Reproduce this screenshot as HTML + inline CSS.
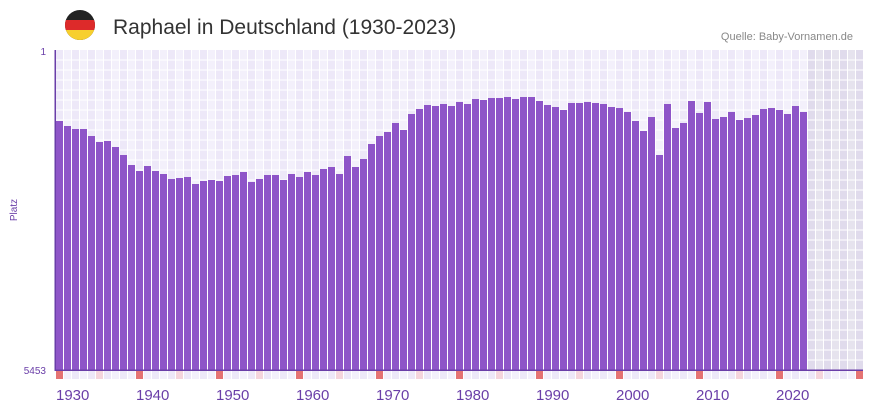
<!DOCTYPE html>
<html><head><meta charset="utf-8"><style>
body{margin:0;background:#fff;width:873px;height:412px;overflow:hidden;font-family:"Liberation Sans",sans-serif}
</style></head><body>
<svg id="s" width="873" height="412" xmlns="http://www.w3.org/2000/svg">
<circle cx="80" cy="25" r="15" fill="#222"/>
<clipPath id="c"><circle cx="80" cy="25" r="15"/></clipPath>
<rect x="60" y="20" width="40" height="10" fill="#dd2a2a" clip-path="url(#c)"/>
<rect x="60" y="30" width="40" height="12" fill="#f7cf2e" clip-path="url(#c)"/>
<text x="113" y="34" font-size="21" fill="#333">Raphael in Deutschland (1930-2023)</text>
<text x="853" y="40" font-size="11" fill="#888" text-anchor="end">Quelle: Baby-Vornamen.de</text>
<text x="46" y="55" font-size="10" fill="#6a3ea8" text-anchor="end">1</text>
<text x="46" y="374" font-size="10" fill="#6a3ea8" text-anchor="end">5453</text>
<text x="17" y="210" font-size="10" fill="#6a3ea8" text-anchor="middle" transform="rotate(-90 17 210)">Platz</text>
<g id="g"></g>
</svg>
<script>
var tops=[121,126,129,129,136,142,141,147,155,165,171,166,171,174,179,178,177,184,181,180,181,176,175,172,182,179,175,175,180,174,177,172,175,169,167,174,156,167,159,144,136,132,123,130,114,109,105,106,104,106,102,104,99,100,98,98,97,99,97,97,101,105,107,110,103,103,102,103,104,107,108,112,121,131,117,155,104,128,123,101,113,102,119,117,112,120,118,115,109,108,110,114,106,112];
var h='';
for(var i=0;i<101;i++){var x=56+i*8,y=1930+i;
var bg=i>=94?(i%2?'#e6e3ee':'#e0dbec'):(i%2?'#f3f0fb':'#ede8f8');
h+='<rect x="'+x+'" y="50" width="7" height="320" fill="'+bg+'"/>';
var mc=y%10==0?'#e57373':(y%10==5?'#f5d5dc':(i%2?'#f3f0fb':'#ede8f8'));
h+='<rect x="'+x+'" y="371" width="7" height="8" fill="'+mc+'"/>';}
for(var yy=60;yy<370;yy+=10)h+='<rect x="56" y="'+(yy-0.5)+'" width="807" height="1" fill="#fff"/>';
for(var i=0;i<tops.length;i++)h+='<rect x="'+(56+i*8)+'" y="'+tops[i]+'" width="7" height="'+(370-tops[i])+'" fill="#8e55c8"/>';
h+='<rect x="54.5" y="50" width="1.5" height="321" fill="#6a3ea8"/><rect x="55" y="369.5" width="808" height="1.5" fill="#6a3ea8"/>';
for(var d=0;d<10;d++)h+='<text x="'+(56+d*80)+'" y="400" font-size="15" fill="#6a3ea8">'+(1930+d*10)+'</text>';
document.getElementById('g').innerHTML=h;
</script>
</body></html>
